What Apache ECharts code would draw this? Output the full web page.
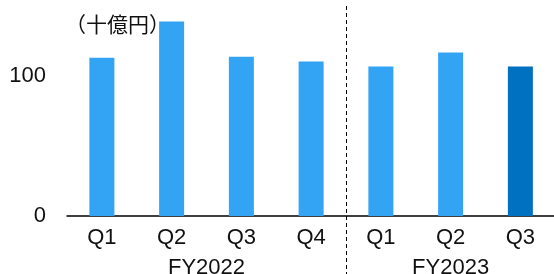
<!DOCTYPE html>
<html>
<head>
<meta charset="utf-8">
<script src="https://cdn.jsdelivr.net/npm/echarts@6/dist/echarts.min.js"></script>
<style>
  html, body { margin: 0; padding: 0; background: #fff; }
  #chart { width: 554px; height: 274px; }
</style>
</head>
<body>
<div id="chart"></div>
<script>
// quarters (last slot is empty, the axis runs off the right edge)
var quarters = ['Q1', 'Q2', 'Q3', 'Q4', 'Q1', 'Q2', 'Q3', ''];
var values = [113, 139, 113.8, 110.4, 106.8, 116.8, 106.8, null];
// fiscal years and the axis position of their centred label
var years = ['FY2022', 'FY2023'];
var yearPos = [1.5, 5];
var dividerPos = [3.5];
var yTicks = [0, 100];
var unitLabel = '（十億円）';

var light = '#33a3f4';
var dark = '#0070c0';

var myChart = echarts.init(document.getElementById('chart'));

var font = 'Liberation Sans, Arial, sans-serif';

var option = {
  animation: false,
  title: {
    text: unitLabel,
    left: 60,
    top: 9,
    textStyle: {
      fontFamily: 'Noto Sans CJK JP',
      fontSize: 21,
      fontWeight: 'normal',
      color: '#111'
    }
  },
  grid: {
    left: 67,
    width: 558,
    top: 6,
    bottom: 58,
    outerBoundsMode: 'none'
  },
  xAxis: [{
    type: 'category',
    data: quarters,
    boundaryGap: true,
    axisLine: { lineStyle: { color: '#000', width: 1.5 } },
    axisTick: { show: false },
    splitLine: { show: false },
    axisLabel: {
      interval: 0,
      margin: 11,
      fontFamily: font,
      fontSize: 22,
      color: '#111'
    }
  }, {
    type: 'value',
    position: 'bottom',
    min: -0.5,
    max: 7.5,
    axisLine: { show: false },
    axisTick: {
      show: true,
      customValues: dividerPos,
      length: 60,
      lineStyle: { color: '#000', type: [4, 3], width: 1 }
    },
    splitLine: {
      show: true,
      lineStyle: { color: '#000', type: [4, 3], width: 1 }
    },
    axisLabel: {
      customValues: yearPos,
      margin: 41,
      fontFamily: font,
      fontSize: 22,
      color: '#111',
      formatter: function (v) {
        var k = yearPos.indexOf(v);
        return k >= 0 ? years[k] : '';
      }
    }
  }],
  yAxis: {
    type: 'value',
    min: 0,
    max: 150,
    interval: 100,
    axisLine: { show: false },
    axisTick: { show: false },
    splitLine: { show: false },
    axisLabel: {
      margin: 21,
      fontFamily: font,
      fontSize: 22,
      color: '#111',
      formatter: function (v) { return yTicks.indexOf(v) >= 0 ? String(v) : ''; }
    }
  },
  series: [{
    type: 'bar',
    barWidth: 25,
    itemStyle: { color: light },
    data: values.map(function (v, i) {
      return i === 6 ? { value: v, itemStyle: { color: dark } } : v;
    })
  }]
};

myChart.setOption(option);
</script>
</body>
</html>
